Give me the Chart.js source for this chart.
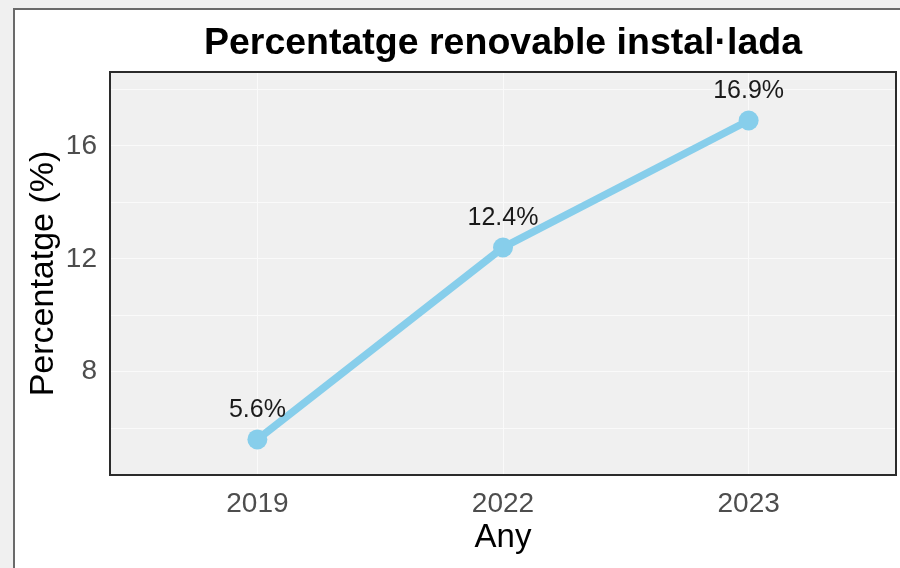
<!DOCTYPE html>
<html lang="ca">
<head>
<meta charset="utf-8">
<title>Percentatge renovable instal·lada</title>
<script src="https://cdn.jsdelivr.net/npm/chart.js@4"></script>
<style>
  html, body { margin: 0; padding: 0; background: #f0f0f0; overflow: hidden; }
  #marc {
    position: absolute; left: 13px; top: 8px; width: 900px; height: 600px;
    background: #ffffff; border-left: 2px solid #6a6a6a; border-top: 2px solid #6a6a6a;
  }
  #grafic { position: absolute; left: 0; top: 0; }
</style>
</head>
<body>
<div id="marc"></div>
<canvas id="grafic" width="900" height="568"></canvas>
<script>
// ------------------------------------------------------
// 1. Dades
// ------------------------------------------------------
const anys = ["2019", "2022", "2023"];
const percentatge = [5.6, 12.4, 16.9];
const ticksMajors = [8, 12, 16];
const ticksMenors = [6, 10, 14, 18];

const FONT = "'Liberation Sans', Arial, sans-serif";

// ------------------------------------------------------
// 2. Plugins: fons del panell, vora i etiquetes
// ------------------------------------------------------
const panell = {
  id: "panell",
  beforeDraw(chart) {
    const { ctx, chartArea: a } = chart;
    ctx.save();
    ctx.fillStyle = "#f0f0f0";
    ctx.fillRect(a.left, a.top, a.right - a.left, a.bottom - a.top);
    ctx.restore();
  },
  afterDraw(chart) {
    const { ctx, chartArea: a } = chart;
    ctx.save();
    ctx.strokeStyle = "#2b2b2b";
    ctx.lineWidth = 2;
    ctx.strokeRect(a.left, a.top, a.right - a.left, a.bottom - a.top);
    ctx.restore();
  }
};

const etiquetes = {
  id: "etiquetes",
  afterDatasetsDraw(chart) {
    const { ctx } = chart;
    const meta = chart.getDatasetMeta(0);
    ctx.save();
    ctx.font = `25px ${FONT}`;
    ctx.fillStyle = "#1a1a1a";
    ctx.textAlign = "center";
    ctx.textBaseline = "middle";
    meta.data.forEach((p, i) => {
      ctx.fillText(`${percentatge[i].toFixed(1)}%`, p.x, p.y - 29);
    });
    ctx.restore();
  }
};

// ------------------------------------------------------
// 3. Gràfic
// ------------------------------------------------------
new Chart(document.getElementById("grafic"), {
  type: "line",
  data: {
    datasets: [{
      data: percentatge.map((v, i) => ({ x: i, y: v })),
      borderColor: "#87CEEB",
      backgroundColor: "#87CEEB",
      borderWidth: 7.5,
      pointRadius: 10,
      pointBorderWidth: 0,
      pointBackgroundColor: "#87CEEB",
      tension: 0
    }]
  },
  options: {
    responsive: false,
    animation: false,
    layout: { autoPadding: false, padding: { left: 0, right: 4, top: 0, bottom: 0 } },
    plugins: {
      legend: { display: false },
      tooltip: { enabled: false },
      title: {
        display: true,
        fullSize: false,
        text: "Percentatge renovable instal·lada",
        color: "#000000",
        font: { family: FONT, size: 37.5, weight: "bold" },
        padding: { top: 21, bottom: 6 }
      }
    },
    scales: {
      x: {
        type: "linear",
        min: -0.6,
        max: 2.6,
        afterBuildTicks: s => { s.ticks = anys.map((_, i) => ({ value: i })); },
        afterFit: s => { s.height = 93; s.paddingLeft = 0; s.paddingRight = 0; },
        grid: { color: "#fafafa", lineWidth: 1, drawTicks: false },
        border: { display: false },
        ticks: {
          callback: v => anys[v],
          color: "#4d4d4d",
          font: { family: FONT, size: 28 },
          padding: 12,
          maxRotation: 0
        },
        title: {
          display: true,
          text: "Any",
          color: "#000000",
          font: { family: FONT, size: 33 },
          padding: { top: 0, bottom: 10 }
        }
      },
      y: {
        min: 4.34,
        max: 18.62,
        afterBuildTicks: s => {
          s.ticks = ticksMenors.concat(ticksMajors).sort((a, b) => a - b).map(v => ({ value: v }));
        },
        afterFit: s => { s.width = 110; },
        grid: { color: "#fafafa", lineWidth: 1, drawTicks: false },
        border: { display: false },
        ticks: {
          callback: v => (ticksMajors.includes(v) ? v : ""),
          color: "#4d4d4d",
          font: { family: FONT, size: 28 },
          padding: 13
        },
        title: {
          display: true,
          text: "Percentatge (%)",
          color: "#000000",
          font: { family: FONT, size: 34 },
          padding: { top: 23, bottom: 0 }
        }
      }
    }
  },
  plugins: [panell, etiquetes]
});
</script>
</body>
</html>
